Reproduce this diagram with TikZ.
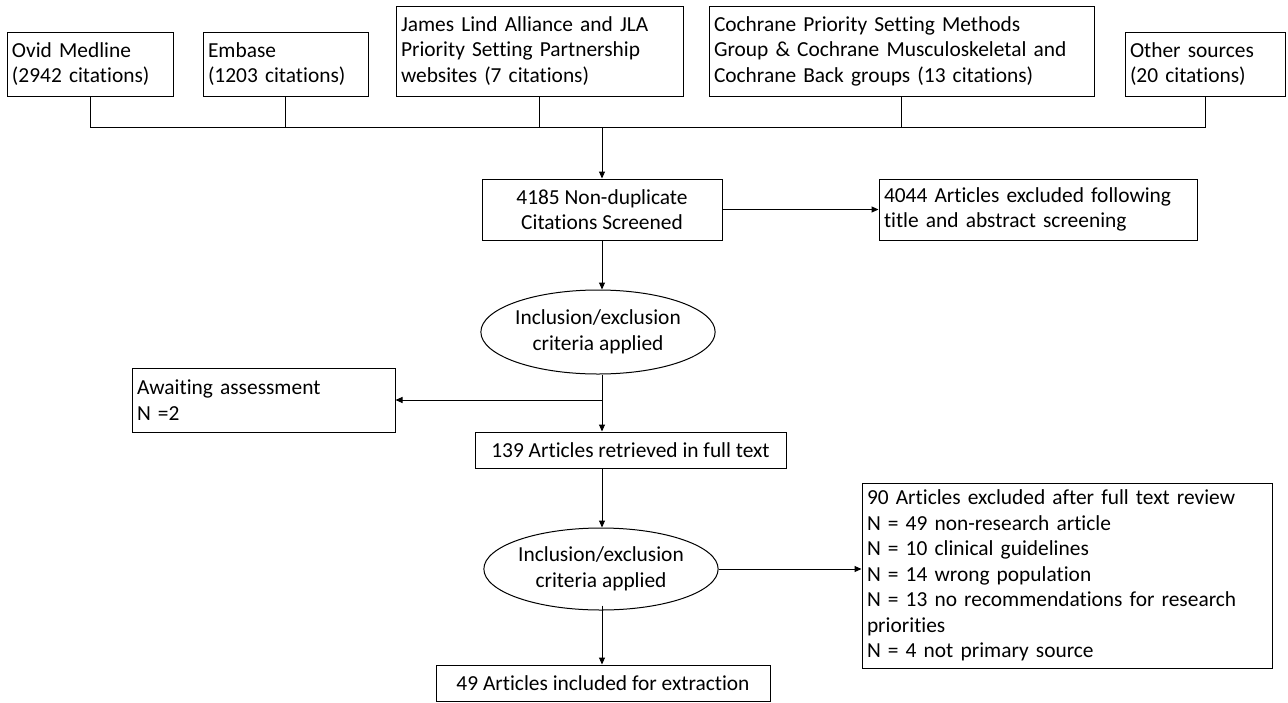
\documentclass[tikz,border=0pt]{standalone}
\usepackage{fontspec}
\setmainfont{Carlito}[Ligatures=NoCommon]
\usetikzlibrary{shapes.geometric,arrows.meta,calc}
\begin{document}
\begin{tikzpicture}[x=1pt,y=-1pt,
  every node/.style={font=\fontsize{21.4}{25.5}\selectfont},
  lbox/.style={draw, line width=1pt, rectangle, inner xsep=5pt, inner ysep=1pt, align=left},
  cbox/.style={draw, line width=1pt, rectangle, inner xsep=2pt, inner ysep=1pt, align=center},
  oval/.style={draw, line width=1pt, ellipse, inner sep=0pt, align=center},
  conn/.style={line width=1pt},
  arr/.style={line width=1pt, -{Triangle[length=7pt,width=6pt]}}]
\useasboundingbox (0,0) rectangle (1288,702);

\node[lbox, text width=156pt, minimum height=64pt] (ovid) at (90,64) {Ovid Medline\\(2942 citations)};
\node[lbox, text width=155pt, minimum height=64pt] (emb) at (285.5,64) {Embase\\(1203 citations)};
\node[lbox, text width=277pt, minimum height=90pt] (jla) at (539.5,51) {James Lind Alliance and JLA\\Priority Setting Partnership\\websites (7 citations)};
\node[lbox, text width=375pt, minimum height=90pt] (coch) at (901.5,51) {Cochrane Priority Setting Methods\\Group \& Cochrane Musculoskeletal and\\Cochrane Back groups (13 citations)};
\node[lbox, text width=150pt, minimum height=64pt] (oth) at (1205,64) {Other sources\\(20 citations)};

\coordinate (bus) at (602,127);

\node[cbox, minimum width=240pt, minimum height=61pt] (nd) at (602,209.5) {4185 Non-duplicate\\Citations Screened};
\node[lbox, text width=308pt, minimum height=61pt] (ex1) at (1038,209.5) {4044 Articles excluded following\\title and abstract screening};

\node[oval, minimum width=230pt, minimum height=84pt] (e1) at (598,332) {Inclusion/exclusion\\criteria applied};
\node[lbox, text width=253pt, minimum height=64pt] (aw) at (263.5,400) {Awaiting assessment\\N =2};
\node[cbox, minimum width=311pt, minimum height=36pt] (b139) at (630.5,450) {139 Articles retrieved in full text};

\node[oval, minimum width=230pt, minimum height=82pt] (e2) at (601,569) {Inclusion/exclusion\\criteria applied};
\node[lbox, text width=400pt, minimum height=185pt] (x90) at (1067,575.5) {90 Articles excluded after full text review\\N = 49 non-research article\\N = 10 clinical guidelines\\N = 14 wrong population\\N = 13 no recommendations for research\\priorities\\N = 4 not primary source};
\node[cbox, minimum width=334pt, minimum height=36pt] (b49) at (603,683) {49 Articles included for extraction};

% bus
\draw[conn] (ovid.south) -- (ovid.south |- bus) -- (oth.south |- bus) -- (oth.south);
\draw[conn] (emb.south) -- (emb.south |- bus);
\draw[conn] (jla.south) -- (jla.south |- bus);
\draw[conn] (coch.south) -- (coch.south |- bus);
\draw[arr] (bus) -- (bus |- nd.north);

\draw[arr] (nd.east) -- (ex1.west);
\draw[arr] (bus |- nd.south) -- (bus |- e1.north);
\draw[arr] (bus |- e1.south) -- (bus |- b139.north);
\draw[arr] (bus |- aw.east) -- (aw.east);
\draw[arr] (bus |- b139.south) -- (bus |- e2.north);
\draw[arr] (e2.east) -- (e2.east -| x90.west);
\draw[arr] ([yshift=5pt]bus |- e2.south) -- (bus |- b49.north);
\end{tikzpicture}
\end{document}
